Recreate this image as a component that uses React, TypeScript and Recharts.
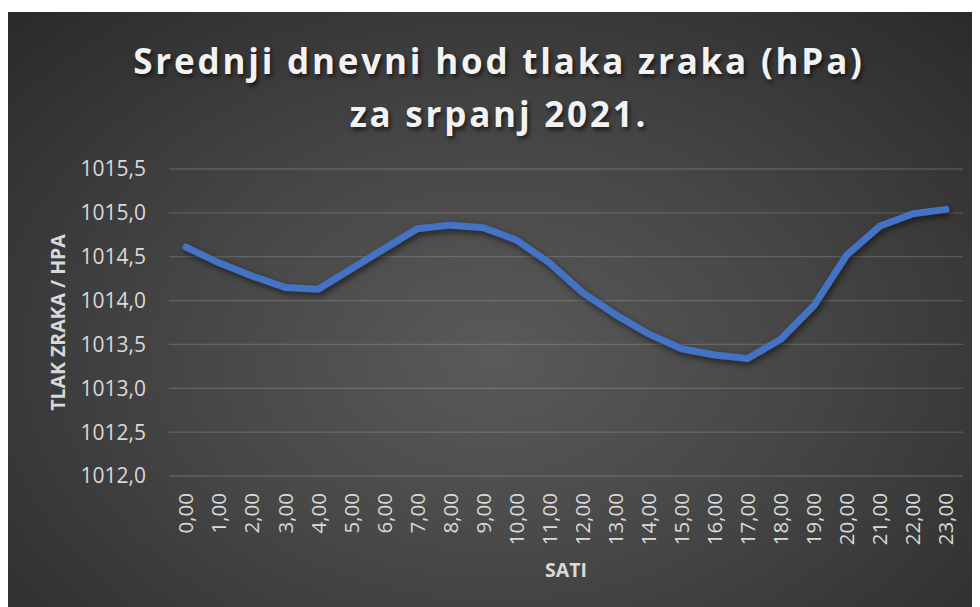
import { CartesianGrid, Label, Line, LineChart, XAxis, YAxis } from "recharts";

const hours = [0, 1, 2, 3, 4, 5, 6, 7, 8, 9, 10, 11, 12, 13, 14, 15, 16, 17, 18, 19, 20, 21, 22, 23];
const pressure = [
  1014.61, 1014.43, 1014.28, 1014.15, 1014.13, 1014.36, 1014.59, 1014.82, 1014.86, 1014.83, 1014.69, 1014.43,
  1014.09, 1013.84, 1013.62, 1013.45, 1013.38, 1013.34, 1013.56, 1013.94, 1014.52, 1014.85, 1014.99, 1015.04,
];
const yTicks = [1012, 1012.5, 1013, 1013.5, 1014, 1014.5, 1015, 1015.5];

const titleLines = ["Srednji dnevni hod tlaka zraka (hPa)", "za srpanj 2021."];
const xTitle = "SATI";
const yTitle = "TLAK ZRAKA / HPA";

const data = hours.map((h, i) => ({ label: `${h},00`, value: pressure[i] }));

const FONT = "'Open Sans', 'Noto Sans', sans-serif";
const TEXT = "#d9d9d9";

function XTick(props: any) {
  const { x, y, payload } = props;
  return (
    <text
      transform={`translate(${x},${y + 17}) rotate(-90)`}
      textAnchor="end"
      dy="0.36em"
      fill={TEXT}
      fontSize={20.5}
      fontFamily={FONT}
    >
      {payload.value}
    </text>
  );
}

function YTitle(props: any) {
  const vb = props.viewBox;
  const cx = 50;
  const cy = vb.y + vb.height / 2;
  return (
    <text
      transform={`translate(${cx},${cy}) rotate(-90)`}
      textAnchor="middle"
      dy="0.36em"
      fill={TEXT}
      fontSize={19.5}
      fontWeight={700}
      fontFamily={FONT}
    >
      {yTitle}
    </text>
  );
}

export default function App() {
  return (
    <div
      style={{
        position: "relative",
        marginTop: 4,
        width: 972,
        height: 595,
        background: "radial-gradient(ellipse at 50% 58%, #5a5a5a 0%, #464646 45%, #2a2a2a 100%)",
      }}
    >
      <style>{`.recharts-line-curve { filter: drop-shadow(2px 3px 3px rgba(0,0,0,0.55)); }`}</style>
      <div
        style={{
          position: "absolute",
          top: 22,
          left: 0,
          width: 972,
          paddingLeft: 10,
          boxSizing: "border-box",
          textAlign: "center",
          color: "#f2f2f2",
          fontFamily: FONT,
          fontWeight: 700,
          fontSize: 35,
          lineHeight: "53px",
          letterSpacing: 2.8,
          textShadow: "2px 3px 4px rgba(0,0,0,0.6)",
        }}
      >
        {titleLines.map((t) => (
          <div key={t}>{t}</div>
        ))}
      </div>
      <LineChart width={972} height={595} data={data} margin={{ top: 157, right: 17, bottom: 0, left: 0 }}>
        <CartesianGrid vertical={false} stroke="rgba(255,255,255,0.16)" strokeWidth={1.3} />
        <XAxis
          dataKey="label"
          interval={0}
          height={131}
          tickLine={false}
          axisLine={false}
          tickSize={0}
          tickMargin={0}
          padding={{ left: 17, right: 17 }}
          tick={<XTick />}
        >
          <Label
            value={xTitle}
            position="insideBottom"
            offset={30}
            fill={TEXT}
            fontSize={19.5}
            fontWeight={700}
            fontFamily={FONT}
          />
        </XAxis>
        <YAxis
          type="number"
          domain={[1012, 1015.5]}
          ticks={yTicks}
          interval={0}
          width={161}
          tickLine={false}
          axisLine={false}
          tickSize={0}
          tickMargin={23}
          tickFormatter={(v: number) => v.toFixed(1).replace(".", ",")}
          tick={{ fill: TEXT, fontSize: 21, fontFamily: FONT }}
        >
          <Label content={<YTitle />} />
        </YAxis>
        <Line
          type="linear"
          dataKey="value"
          stroke="#4472c4"
          strokeWidth={7}
          strokeLinecap="round"
          strokeLinejoin="round"
          dot={false}
          activeDot={false}
          isAnimationActive={false}
        />
      </LineChart>
    </div>
  );
}
